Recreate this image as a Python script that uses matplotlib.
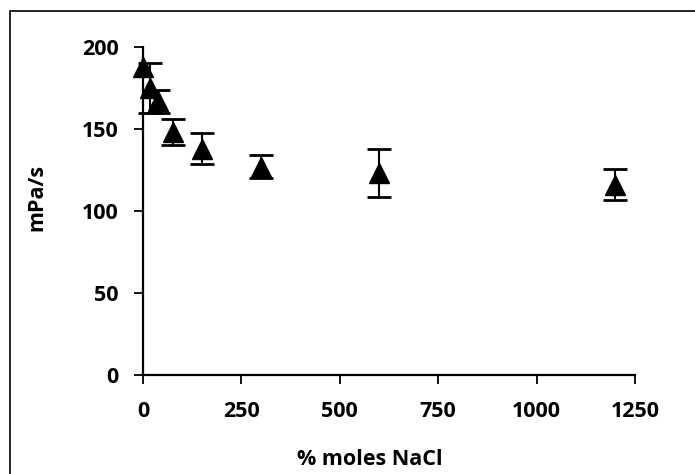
import matplotlib
matplotlib.use("Agg")
import matplotlib.pyplot as plt
import numpy as np
from matplotlib.patches import Rectangle

x_nacl = [0, 18.75, 37.5, 75, 150, 300, 600, 1200]
y_visc = [188, 175, 167, 148, 138, 127, 123, 116]
y_err = [np.nan, 15, 7, 8, 9.3, 7, 14.5, 9.4]
x_ticks = [0, 250, 500, 750, 1000, 1250]
y_ticks = [0, 50, 100, 150, 200]

plt.rcParams['font.family'] = ['Open Sans', 'DejaVu Sans']

fig = plt.figure(figsize=(6.95, 4.74), dpi=100)
ax = fig.add_axes([143/695, 1-375/474, (635-143)/695, (375-47)/474])

ax.errorbar(x_nacl, y_visc, yerr=y_err, fmt='^', color='black', ms=14.5,
            ecolor='black', elinewidth=1.5, capsize=8.5, capthick=2,
            clip_on=False, zorder=3)

ax.set_xlim(0, 1250)
ax.set_ylim(0, 200)
ax.set_xticks(x_ticks)
ax.set_yticks(y_ticks)
for s in ['top', 'right']:
    ax.spines[s].set_visible(False)
for s in ['left', 'bottom']:
    ax.spines[s].set_linewidth(1.6)
ax.tick_params(direction='out', length=6.5, width=1.3, labelsize=15.5)
ax.tick_params(axis='x', pad=12)
ax.tick_params(axis='y', pad=11)
for lab in ax.get_xticklabels() + ax.get_yticklabels():
    lab.set_fontweight('bold')
ax.set_xlabel('% moles NaCl', fontsize=15.5, fontweight='bold')
ax.set_ylabel('mPa/s', fontsize=15.5, fontweight='bold')
ax.xaxis.set_label_coords((370 - 143) / 492, (375 - 449) / 328)
ax.yaxis.set_label_coords((47 - 143) / 492, (375 - 197) / 328)

fig.patches.append(Rectangle((10/695, -0.05), 1.0, 1 - 11/474 + 0.05,
                             transform=fig.transFigure, fill=False,
                             edgecolor='black', linewidth=1.2))

fig.savefig('out.png', dpi=100)
